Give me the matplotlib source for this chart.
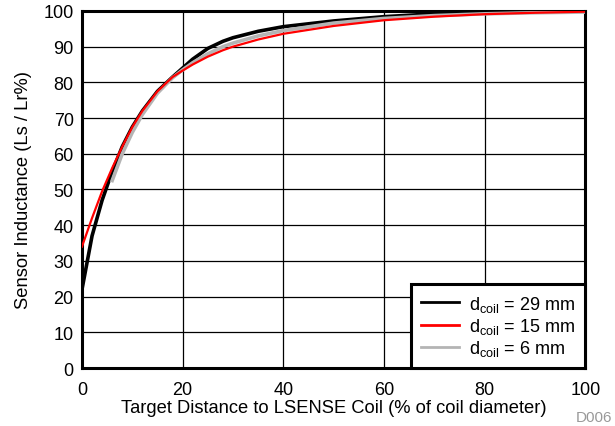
import numpy as np
import matplotlib.pyplot as plt

plt.rcParams['font.family'] = ['Liberation Sans', 'DejaVu Sans']

# target distance (% of coil diameter) and inductance ratio (%)
x_29 = [0, 2, 4, 6, 8, 10, 12, 15, 18, 20, 22, 25, 28, 30, 35, 40, 50, 60, 70, 80, 90, 100]
y_29 = [22, 37, 47, 55, 62, 67.5, 72, 77.5, 81.5, 84, 86.5, 89.5, 91.5, 92.5, 94.3, 95.6, 97.2, 98.4, 99.2, 99.7, 99.9, 100]

x_15 = [0, 2, 4, 6, 8, 10, 12, 15, 18, 20, 22, 25, 28, 30, 35, 40, 50, 60, 70, 80, 90, 100]
y_15 = [34, 42, 49.5, 56, 62, 67.5, 72, 77.5, 81.5, 83.3, 85, 87.2, 89, 90, 92, 93.6, 95.8, 97.4, 98.4, 99.1, 99.5, 99.8]

x_6 = [6, 8, 10, 12, 15, 18, 20, 22, 25, 28, 30, 35, 40, 50, 60, 70, 80, 90, 100]
y_6 = [52.5, 60, 66, 71, 77, 81.3, 83.5, 85.5, 88, 90, 91, 93, 94.5, 96.6, 97.9, 98.7, 99.2, 99.5, 99.7]

fig = plt.figure(figsize=(6.15, 4.27), dpi=100)
ax = fig.add_axes([0.1333, 0.1358, 0.8184, 0.8362])

ax.plot(x_29, y_29, color='black', lw=2.6, label=r'$\mathregular{d_{coil}}$ = 29 mm', zorder=3)
ax.plot(x_6, y_6, color='#b4b4b4', lw=2.6, label=r'$\mathregular{d_{coil}}$ = 6 mm', zorder=4)
ax.plot(x_15, y_15, color='#ff0000', lw=1.6, label=r'$\mathregular{d_{coil}}$ = 15 mm', zorder=5)

ax.set_xlim(0, 100)
ax.set_ylim(0, 100)
ax.set_xticks(np.arange(0, 101, 20))
ax.set_yticks(np.arange(0, 101, 10))
ax.tick_params(length=0, labelsize=13)
ax.tick_params(axis='x', pad=9)
ax.tick_params(axis='y', pad=6)
ax.grid(True, color='black', lw=0.9)
for s in ax.spines.values():
    s.set_linewidth(2.2)

ax.set_xlabel('Target Distance to LSENSE Coil (% of coil diameter)', fontsize=13.2, labelpad=1)
ax.set_ylabel('Sensor Inductance (Ls / Lr%)', fontsize=13.2, labelpad=8)

h, l = ax.get_legend_handles_labels()
order = [0, 2, 1]
leg = ax.legend([h[i] for i in order], [l[i] for i in order], loc='lower right',
                fontsize=13, fancybox=False, framealpha=1, borderpad=0.55,
                handlelength=2.1, labelspacing=0.12, borderaxespad=0.0,
                handletextpad=0.6)
leg.get_frame().set_edgecolor('black')
leg.get_frame().set_linewidth(2.2)
for line in leg.get_lines():
    line.set_linewidth(2)

fig.text(0.995, 0.012, 'D006', color='#999999', fontsize=11, ha='right')

fig.savefig('out.png', dpi=100)
